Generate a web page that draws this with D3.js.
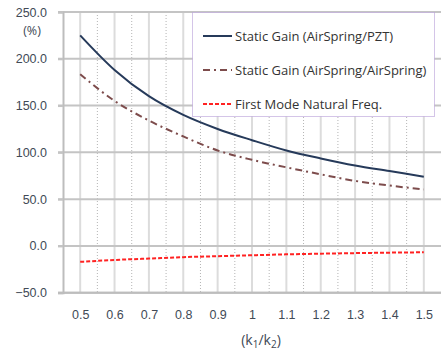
<!DOCTYPE html>
<html>
<head>
<meta charset="utf-8">
<script src="https://cdn.jsdelivr.net/npm/d3@7"></script>
<style>
  body { margin: 0; background: #fff; }
  svg { font-family: "Open Sans", "Noto Sans", sans-serif; }
</style>
</head>
<body>
<svg width="441" height="353"></svg>
<script>
const ratios = [0.5, 0.6, 0.7, 0.8, 0.9, 1.0, 1.1, 1.2, 1.3, 1.4, 1.5];
const gainPzt = [225, 188, 160, 140, 125, 113, 102, 93.5, 86, 80, 74];
const gainAir = [183.5, 155, 134, 117, 102, 92, 84, 76.5, 69.5, 64.5, 60.3];
const natFreq = [-17, -15, -13.5, -12, -11, -10, -9, -8.3, -7.7, -7.2, -6.8];
const yTicks = [-50, 0, 50, 100, 150, 200, 250];
const seriesNames = ["Static Gain (AirSpring/PZT)", "Static Gain (AirSpring/AirSpring)", "First Mode Natural Freq."];

const svg = d3.select("svg");
const textColor = "#414a56";

const x = d3.scaleLinear([0.45, 1.55], [63, 441]);
const y = d3.scaleLinear([-50, 250], [292.7, 12]);

// vertical grid: solid at ticks, dotted halfway between
const minor = d3.range(0.55, 1.5, 0.1);
svg.append("g")
  .selectAll("line")
  .data(ratios)
  .join("line")
  .attr("x1", d => x(d)).attr("x2", d => x(d))
  .attr("y1", y(250)).attr("y2", y(-50))
  .attr("stroke", "#dcdcdc")
  .attr("stroke-width", 2);
svg.append("g")
  .selectAll("line")
  .data(minor)
  .join("line")
  .attr("x1", d => x(d)).attr("x2", d => x(d))
  .attr("y1", y(250)).attr("y2", y(-50))
  .attr("stroke", "#b4b4b4")
  .attr("stroke-width", 1)
  .attr("stroke-dasharray", "1,2");

// horizontal grid
svg.append("g")
  .selectAll("line")
  .data(yTicks)
  .join("line")
  .attr("x1", 58).attr("x2", 441)
  .attr("y1", d => y(d)).attr("y2", d => y(d))
  .attr("stroke", "#c4c4c4")
  .attr("stroke-width", 2);

// y axis
const yAxis = svg.append("g")
  .attr("transform", "translate(63,0)")
  .call(d3.axisLeft(y).tickValues(yTicks).tickFormat(d3.format(".1f")).tickSize(5).tickPadding(11));
yAxis.select(".domain").attr("stroke", "#bdbdbd").attr("stroke-width", 2);
yAxis.selectAll(".tick line").attr("stroke", "#c4c4c4").attr("stroke-width", 2);
yAxis.selectAll("text").attr("fill", textColor).style("font-size", "12.5px");

svg.append("text")
  .attr("x", 32).attr("y", 35)
  .attr("text-anchor", "middle")
  .attr("fill", textColor)
  .style("font-size", "12.5px")
  .text("(%)");

// x axis
const xAxis = svg.append("g")
  .attr("transform", `translate(0,${y(-50)})`)
  .call(d3.axisBottom(x).tickValues(ratios).tickFormat(d3.format("~g")).tickSize(0).tickPadding(17));
xAxis.select(".domain").attr("stroke", "#bdbdbd").attr("stroke-width", 2)
  .attr("d", `M58,0H441`);
xAxis.selectAll("text").attr("fill", textColor).style("font-size", "12.5px");

const title = svg.append("text")
  .attr("x", 261).attr("y", 345)
  .attr("text-anchor", "middle")
  .attr("fill", textColor)
  .style("font-size", "14px");
title.append("tspan").text("(k");
title.append("tspan").attr("dy", 3).style("font-size", "10px").text("1");
title.append("tspan").attr("dy", -3).text("/k");
title.append("tspan").attr("dy", 3).style("font-size", "10px").text("2");
title.append("tspan").attr("dy", -3).text(")");

// series
const styles = [
  { values: gainPzt, color: "#263a5a", dash: null },
  { values: gainAir, color: "#7d4c4c", dash: "7,4,2,4" },
  { values: natFreq, color: "#ff2222", dash: "4,2" }
];

const line = d3.line()
  .x((d, i) => x(ratios[i]))
  .y(d => y(d))
  .curve(d3.curveMonotoneX);

svg.append("g")
  .selectAll("path")
  .data(styles)
  .join("path")
  .attr("d", d => line(d.values))
  .attr("fill", "none")
  .attr("stroke", d => d.color)
  .attr("stroke-width", 2)
  .attr("stroke-dasharray", d => d.dash);

// legend
const legend = svg.append("g");
legend.append("rect")
  .attr("x", 192.5).attr("y", 12.5)
  .attr("width", 242).attr("height", 104)
  .attr("fill", "#fff")
  .attr("stroke", "#a98bd0")
  .attr("stroke-width", 1)
  .attr("stroke-dasharray", "1,1");

const rows = legend.selectAll("g.row")
  .data(styles)
  .join("g")
  .attr("class", "row")
  .attr("transform", (d, i) => `translate(0,${36 + i * 34})`);
rows.append("line")
  .attr("x1", 203).attr("x2", 232)
  .attr("stroke", d => d.color)
  .attr("stroke-width", 2)
  .attr("stroke-dasharray", d => d.dash);
rows.append("text")
  .attr("x", 235).attr("y", 4.5)
  .attr("fill", "#333")
  .style("font-size", "13px")
  .text((d, i) => seriesNames[i]);
</script>
</body>
</html>
